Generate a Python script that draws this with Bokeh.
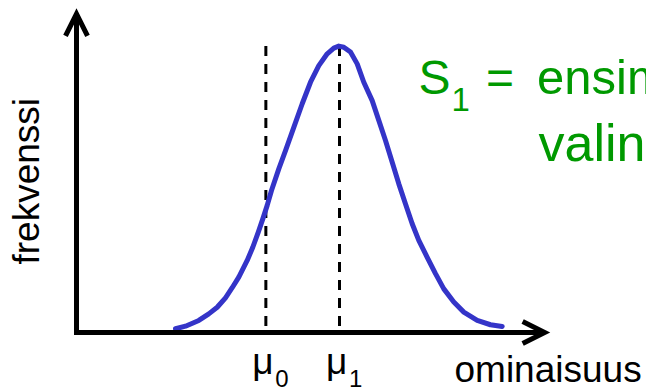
import math

from bokeh.core.properties import value
from bokeh.embed import file_html
from bokeh.models import Arrow, OpenHead, Range1d
from bokeh.plotting import figure
from bokeh.resources import INLINE

# Bell curve of the trait distribution (ominaisuus vs. frekvenssi)
curve_x = [3.764, 4.144, 4.650, 5.030, 5.350, 5.665, 5.920, 6.171, 6.490,
           6.703, 6.909, 7.084, 7.251, 7.414, 7.692, 7.947, 8.262, 8.582,
           8.897, 9.213, 9.532, 9.783, 9.973, 10.163, 10.418, 10.673,
           10.924, 11.243, 11.494, 11.749, 12.004, 12.255, 12.510, 12.764,
           13.015, 13.335, 13.650, 13.966, 14.346, 14.726, 15.236, 15.741,
           16.186]
curve_y = [0.013, 0.022, 0.042, 0.065, 0.088, 0.121, 0.156, 0.193, 0.251,
           0.297, 0.349, 0.396, 0.443, 0.495, 0.570, 0.634, 0.715, 0.797,
           0.872, 0.930, 0.971, 0.991, 0.998, 0.994, 0.977, 0.936, 0.872,
           0.808, 0.739, 0.669, 0.593, 0.518, 0.448, 0.379, 0.321, 0.262,
           0.205, 0.152, 0.106, 0.071, 0.042, 0.027, 0.021]

# Means marked on the trait axis
mu_x = [7.2, 10.0]
mu_subscripts = ["0", "1"]

# Axis extents
x_axis_end = 17.8
y_axis_end = 1.11

# Texts
y_label = "frekvenssi"
x_label = "ominaisuus"
note_symbol = "S"
note_subscript = "1"
note_equals = "="
note_line1 = "ensimmäinen"
note_line2 = "valinta"

W, H = 646, 392
# pixel layout of the data origin and scale
OX, OY = 76.0, 332.0
SX, SY = 26.3, 287.0
# the text box sits lower than its nominal baseline by this share of the size
BASE_SHIFT = 0.38


def X(px):
    return (px - OX) / SX


def Y(py):
    return (OY - py) / SY


FONT = value("Liberation Sans")
GREEN = "#009900"

p = figure(width=W, height=H, output_backend="svg", toolbar_location=None,
           x_range=Range1d(X(0), X(W)), y_range=Range1d(Y(H), Y(0)),
           x_axis_location=None, y_axis_location=None,
           min_border=0)
p.grid.visible = False
p.outline_line_color = None
p.background_fill_color = "white"
p.border_fill_color = "white"


def label(px, py, texts, size, color, angle=0.0):
    """Place text with its baseline at screen pixel (px, py)."""
    shift = BASE_SHIFT * size
    if angle:
        px = px - shift
    else:
        py = py - shift
    n = len(texts)
    xs = px if isinstance(px, list) else [px] * n
    ys = py if isinstance(py, list) else [py] * n
    p.text(x=[X(v) for v in xs], y=[Y(v) for v in ys], text=texts,
           angle=angle, text_font=FONT, text_font_size=f"{size}px",
           text_color=color, text_align="left", text_baseline="alphabetic")


# dashed markers at the means, from the curve's top down to the axis
top = max(curve_y)
p.segment(x0=mu_x, y0=[top] * len(mu_x), x1=mu_x, y1=[0] * len(mu_x),
          line_color="black", line_width=3, line_dash="10 8")

# the distribution
p.line(curve_x, curve_y, line_color="#3434c8", line_width=5,
       line_join="round", line_cap="round")

# axes with open arrow heads
for (xs, ys, xe, ye) in [(X(OX), Y(OY + 2.5), 0, y_axis_end),
                         (X(OX - 2.5), 0, x_axis_end, 0)]:
    p.add_layout(Arrow(x_start=xs, y_start=ys, x_end=xe, y_end=ye,
                       line_width=5, line_color="black",
                       end=OpenHead(size=22, line_width=5,
                                    line_color="black", line_join="miter")))

# axis titles
label(40, 264, [y_label], 37, "black", angle=math.pi / 2)
label(454, 383, [x_label], 37, "black")

# mean labels: mu with subscript
mu_px = [OX + SX * m for m in mu_x]
label([v - 13.5 for v in mu_px], 375, ["μ"] * len(mu_x), 37, "black")
label([v + 9.5 for v in mu_px], 387, mu_subscripts, 24, "black")

# green note at upper right
label(418, 95, [note_symbol], 48, GREEN)
label(451, 112, [note_subscript], 33, GREEN)
label(485.5, 95, [note_equals], 48, GREEN)
label(536.5, 95, [note_line1], 49, GREEN)
label(538, 162, [note_line2], 52, GREEN)

open("out.html", "w").write(file_html(p, INLINE))
